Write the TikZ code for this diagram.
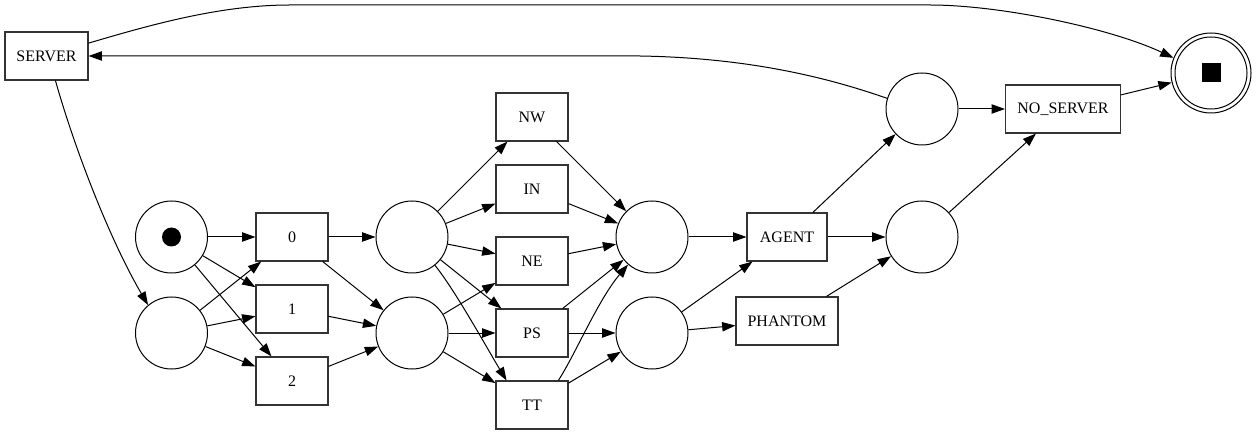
\documentclass[tikz,border=0pt]{standalone}
\usepackage{fontspec}
\setmainfont{Liberation Serif}
\usetikzlibrary{arrows.meta}
\begin{document}
\begin{tikzpicture}[x=1pt,y=-1pt,
  place/.style={circle,draw,line width=1pt,minimum size=72pt,inner sep=0pt},
  trans/.style={rectangle,draw=black!80,line width=1.1pt,minimum width=72pt,minimum height=48pt,inner sep=2pt,font=\fontsize{16}{19}\selectfont},
  arc/.style={-{Triangle[length=13.3pt,width=9.3pt]},line width=1pt},
]
\useasboundingbox (0,0) rectangle (1257,435);
\node[trans,minimum width=83pt] (server) at (46.5,56) {SERVER};
\node[place] (pA) at (171.5,237) {};
\node[circle,fill,minimum size=19pt,inner sep=0pt] (tok) at (pA) {};
\node[place] (pB) at (171.5,333) {};
\node[trans] (t0) at (292,237) {0};
\node[trans] (t1) at (292,309) {1};
\node[trans] (t2) at (292,381) {2};
\node[place] (pC) at (412,237) {};
\node[place] (pD) at (412,333) {};
\node[trans] (tnw) at (532,117) {NW};
\node[trans] (tin) at (532,189) {IN};
\node[trans] (tne) at (532,261) {NE};
\node[trans] (tps) at (532,333) {PS};
\node[trans] (ttt) at (532,405) {TT};
\node[place] (pE) at (652,237) {};
\node[place] (pF) at (652,333) {};
\node[trans,minimum width=80pt] (agent) at (787,237) {AGENT};
\node[trans,minimum width=102pt] (phantom) at (787,321) {PHANTOM};
\node[place] (pG) at (922,109) {};
\node[place] (pH) at (922,237) {};
\node[trans,minimum width=115pt] (noserver) at (1063,109) {NO\_SERVER};
\node[place,minimum size=80pt] (fin) at (1211,73) {};
\node[place,minimum size=72pt] (finin) at (fin) {};
\node[fill,minimum size=19pt,inner sep=0pt] (fintok) at (fin) {};

\draw[arc] (server.17) .. controls (150,25) and (220,5) .. (290,5) -- (930,5) .. controls (1000,5) and (1110,28) .. (fin.158);
\draw[arc] (pG.163) .. controls (840,82) and (760,58) .. (640,56) -- (server.east);
\draw[arc] (server.-70.5) .. controls (75,150) and (110,240) .. (pB.130);

\foreach \a/\b in {pA/t0,pA/t1,pA/t2,pB/t0,pB/t1,pB/t2,t0/pC,t0/pD,t1/pD,t2/pD,pC/tnw,pC/tin,pC/tne,pC/tps,pD/tne,pD/tps,pD/ttt,tnw/pE,tin/pE,tne/pE,tps/pE,tps/pF,ttt/pF,pE/agent,pF/agent,pF/phantom,agent/pG,agent/pH,phantom/pH,pG/noserver,pH/noserver,noserver/fin}
  \draw[arc] (\a) -- (\b);

\draw[arc] (pC.-51.6) .. controls (455,290) and (488,350) .. (ttt.136);
\draw[arc] (ttt.43) .. controls (575,355) and (598,300) .. (pE.-131);
\end{tikzpicture}
\end{document}
